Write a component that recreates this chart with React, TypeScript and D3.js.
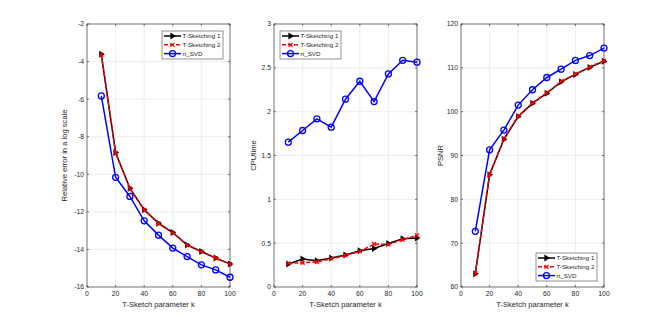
import React from "react";
import * as d3 from "d3";

const kValues = [10, 20, 30, 40, 50, 60, 70, 80, 90, 100];

// panel 1: relative error (log scale)
const errSketch1 = [-3.61, -8.84, -10.74, -11.89, -12.6, -13.1, -13.76, -14.11, -14.46, -14.77];
const errSketch2 = [-3.63, -8.86, -10.76, -11.9, -12.62, -13.12, -13.77, -14.12, -14.47, -14.78];
const errSvd = [-5.83, -10.16, -11.18, -12.48, -13.24, -13.93, -14.38, -14.82, -15.09, -15.48];

// panel 2: CPU time
const cpuSketch1 = [0.262, 0.319, 0.3, 0.33, 0.365, 0.414, 0.44, 0.497, 0.55, 0.558];
const cpuSketch2 = [0.27, 0.277, 0.285, 0.323, 0.36, 0.406, 0.49, 0.486, 0.54, 0.589];
const cpuSvd = [1.652, 1.785, 1.918, 1.823, 2.142, 2.347, 2.115, 2.43, 2.586, 2.564];

// panel 3: PSNR
const psnrSketch1 = [63.0, 85.6, 93.7, 98.9, 101.9, 104.2, 106.8, 108.5, 110.1, 111.5];
const psnrSketch2 = [63.1, 85.7, 93.8, 99.0, 102.0, 104.3, 106.9, 108.6, 110.2, 111.6];
const psnrSvd = [72.7, 91.3, 95.8, 101.5, 105.0, 107.8, 109.7, 111.7, 112.8, 114.5];

const seriesNames = ["T-Sketching 1", "T-Sketching 2", "rt_SVD"];
const xTicks = [0, 20, 40, 60, 80, 100];

const font = "Liberation Sans, Arial, sans-serif";
const axisColor = "#262626";

type PanelProps = {
  left: number;
  yDomain: [number, number];
  yTicks: number[];
  yLabel: string;
  s1: number[];
  s2: number[];
  s3: number[];
  legendX: number;
  legendY: number;
};

const top = 24;
const bottom = 287;
const plotW = 143;

function Panel({ left, yDomain, yTicks, yLabel, s1, s2, s3, legendX, legendY }: PanelProps) {
  const x = d3.scaleLinear().domain([0, 100]).range([left, left + plotW]);
  const y = d3.scaleLinear().domain(yDomain).range([bottom, top]);
  const line = (vals: number[]) =>
    d3.line<number>().x((_, i) => x(kValues[i])).y((v) => y(v))(vals) || "";

  const tri = (cx: number, cy: number, s = 3.5) =>
    `M${cx - s * 0.6},${cy - s} L${cx + s},${cy} L${cx - s * 0.6},${cy + s} Z`;
  const cross = (cx: number, cy: number, s = 2) =>
    `M${cx - s},${cy - s} L${cx + s},${cy + s} M${cx - s},${cy + s} L${cx + s},${cy - s}`;

  const legendW = 61;
  const legendH = 28;

  return (
    <g>
      <rect x={left} y={top} width={plotW} height={bottom - top} fill="#fff" />
      {/* grid */}
      {xTicks.map((t) => (
        <line key={"gx" + t} x1={x(t)} x2={x(t)} y1={top} y2={bottom} stroke="#e3e3e3" strokeWidth={0.6} />
      ))}
      {yTicks.map((t) => (
        <line key={"gy" + t} x1={left} x2={left + plotW} y1={y(t)} y2={y(t)} stroke="#e3e3e3" strokeWidth={0.6} />
      ))}
      {/* box */}
      <rect x={left} y={top} width={plotW} height={bottom - top} fill="none" stroke={axisColor} strokeWidth={0.6} />
      {xTicks.map((t) => (
        <g key={"tx" + t}>
          <line x1={x(t)} x2={x(t)} y1={bottom} y2={bottom - 2} stroke={axisColor} strokeWidth={0.6} />
          <line x1={x(t)} x2={x(t)} y1={top} y2={top + 2} stroke={axisColor} strokeWidth={0.6} />
          <text x={x(t)} y={bottom + 9} textAnchor="middle" fontSize={6.8} fill={axisColor} fontFamily={font}>
            {t}
          </text>
        </g>
      ))}
      {yTicks.map((t) => (
        <g key={"ty" + t}>
          <line x1={left} x2={left + 2} y1={y(t)} y2={y(t)} stroke={axisColor} strokeWidth={0.6} />
          <line x1={left + plotW} x2={left + plotW - 2} y1={y(t)} y2={y(t)} stroke={axisColor} strokeWidth={0.6} />
          <text x={left - 3} y={y(t) + 2.4} textAnchor="end" fontSize={6.8} fill={axisColor} fontFamily={font}>
            {t}
          </text>
        </g>
      ))}
      <text x={left + plotW / 2} y={bottom + 20} textAnchor="middle" fontSize={7.6} fill={axisColor} fontFamily={font}>
        T-Sketch parameter k
      </text>
      <text
        transform={`translate(${left - (yDomain[0] < 0 ? 20 : 18)},${(top + bottom) / 2}) rotate(-90)`}
        textAnchor="middle"
        fontSize={7.6}
        fill={axisColor}
        fontFamily={font}
      >
        {yLabel}
      </text>

      {/* series */}
      <path d={line(s1)} fill="none" stroke="#000" strokeWidth={1.5} />
      {s1.map((v, i) => (
        <path key={"m1" + i} d={tri(x(kValues[i]), y(v))} fill="#000" />
      ))}
      <path d={line(s2)} fill="none" stroke="#ff0000" strokeWidth={1.5} strokeDasharray="4,2" />
      {s2.map((v, i) => (
        <path key={"m2" + i} d={cross(x(kValues[i]), y(v))} stroke="#ff0000" strokeWidth={1.2} />
      ))}
      <path d={line(s3)} fill="none" stroke="#0000ff" strokeWidth={1.5} />
      {s3.map((v, i) => (
        <circle key={"m3" + i} cx={x(kValues[i])} cy={y(v)} r={3} fill="none" stroke="#0000ff" strokeWidth={1.3} />
      ))}

      {/* legend */}
      <rect x={legendX} y={legendY} width={legendW} height={legendH} fill="#fff" stroke={axisColor} strokeWidth={0.5} />
      {seriesNames.map((name, i) => {
        const ly = legendY + 5 + i * 8.8;
        const lx0 = legendX + 2;
        const lx1 = legendX + 19;
        const mx = (lx0 + lx1) / 2;
        return (
          <g key={name}>
            {i === 0 && (
              <>
                <line x1={lx0} x2={lx1} y1={ly} y2={ly} stroke="#000" strokeWidth={1.5} />
                <path d={tri(mx, ly)} fill="#000" />
              </>
            )}
            {i === 1 && (
              <>
                <line x1={lx0} x2={lx1} y1={ly} y2={ly} stroke="#ff0000" strokeWidth={1.5} strokeDasharray="4,2" />
                <path d={cross(mx, ly)} stroke="#ff0000" strokeWidth={1.2} />
              </>
            )}
            {i === 2 && (
              <>
                <line x1={lx0} x2={lx1} y1={ly} y2={ly} stroke="#0000ff" strokeWidth={1.5} />
                <circle cx={mx} cy={ly} r={3} fill="none" stroke="#0000ff" strokeWidth={1.3} />
              </>
            )}
            <text x={lx1 + 1.5} y={ly + 2.3} fontSize={6.2} fill={axisColor} fontFamily={font}>
              {name}
            </text>
          </g>
        );
      })}
    </g>
  );
}

export default function App() {
  return (
    <svg width={667} height={323} style={{ position: "absolute", left: 0, top: 0, background: "#fff" }}>
      <rect width={667} height={323} fill="#fff" />
      <Panel
        left={87}
        yDomain={[-16, -2]}
        yTicks={d3.range(-16, -1, 2)}
        yLabel="Relative error in a log scale"
        s1={errSketch1}
        s2={errSketch2}
        s3={errSvd}
        legendX={162}
        legendY={31}
      />
      <Panel
        left={274}
        yDomain={[0, 3]}
        yTicks={[0, 0.5, 1, 1.5, 2, 2.5, 3]}
        yLabel="CPUtime"
        s1={cpuSketch1}
        s2={cpuSketch2}
        s3={cpuSvd}
        legendX={280}
        legendY={31}
      />
      <Panel
        left={461}
        yDomain={[60, 120]}
        yTicks={d3.range(60, 121, 10)}
        yLabel="PSNR"
        s1={psnrSketch1}
        s2={psnrSketch2}
        s3={psnrSvd}
        legendX={536}
        legendY={253}
      />
    </svg>
  );
}
